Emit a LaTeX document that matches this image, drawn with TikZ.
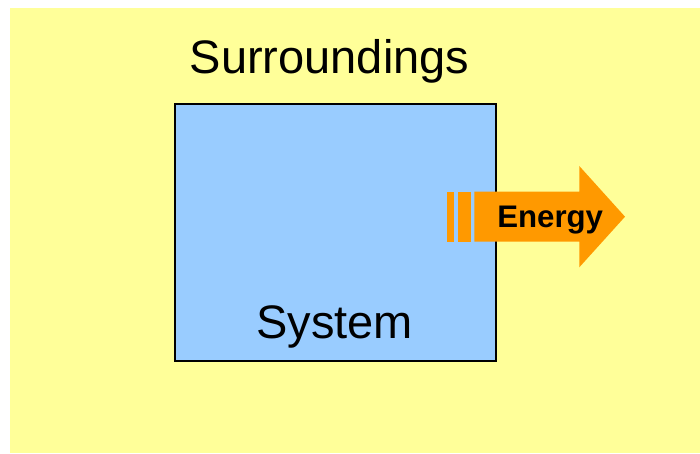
\documentclass[tikz,border=0pt]{standalone}
\usepackage{fontspec}
\setmainfont{Liberation Sans}
\definecolor{bgyellow}{HTML}{FFFF99}
\definecolor{sysblue}{HTML}{99CCFF}
\definecolor{enorange}{HTML}{FF9900}
\begin{document}
\begin{tikzpicture}[x=1pt,y=-1pt,
  bigtext/.style={inner sep=0pt,anchor=base,font=\fontsize{47}{51}\selectfont},
  entext/.style={inner sep=0pt,anchor=base,font=\bfseries\fontsize{31.2}{34}\selectfont},
  sysbox/.style={draw=black,line width=2pt,fill=sysblue},
  arrowfill/.style={fill=enorange,draw=none}]
\useasboundingbox (0,0) rectangle (700,454);
\fill[bgyellow] (10,8) rectangle (700,453);
\draw[sysbox] (175,104) rectangle (496,361);
\node[bigtext] (surr) at (329.5,74) {Surroundings};
\node[bigtext] (sys) at (334.7,338.5) {System};
\fill[arrowfill] (446.7,191.7) rectangle (454.3,241.7);
\fill[arrowfill] (457.7,191.7) rectangle (471,241.7);
\fill[arrowfill] (474.3,191.7) -- (579.3,191.7) -- (579.3,166) -- (625,216.7) -- (579.3,267.3) -- (579.3,241.7) -- (474.3,241.7) -- cycle;
\node[entext] (energy) at (550.2,227.3) {Energy};
\end{tikzpicture}
\end{document}
